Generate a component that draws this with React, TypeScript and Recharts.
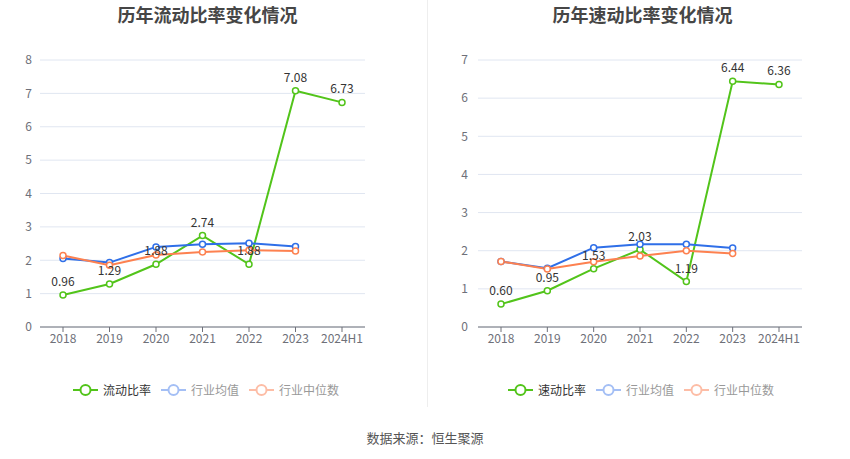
import React from 'react';
import { LineChart, Line, XAxis, YAxis, CartesianGrid, LabelList } from 'recharts';

const categories = ['2018', '2019', '2020', '2021', '2022', '2023', '2024H1'];
const currentRatio = [0.96, 1.29, 1.88, 2.74, 1.88, 7.08, 6.73];
const currentAvg = [2.05, 1.93, 2.4, 2.48, 2.51, 2.41, null];
const currentMedian = [2.14, 1.85, 2.16, 2.25, 2.3, 2.28, null];
const quickRatio = [0.6, 0.95, 1.53, 2.03, 1.19, 6.44, 6.36];
const quickAvg = [1.72, 1.54, 2.08, 2.17, 2.17, 2.07, null];
const quickMedian = [1.72, 1.52, 1.71, 1.86, 2.0, 1.93, null];
const leftTicks = [0, 1, 2, 3, 4, 5, 6, 7, 8];
const rightTicks = [0, 1, 2, 3, 4, 5, 6, 7];

const GREEN = '#52c41a';
const BLUE = '#2f6fe8';
const ORANGE = '#fd8150';
const FONT = '"Noto Sans CJK SC", "Noto Sans", sans-serif';

const build = (main: number[], avg: (number | null)[], med: (number | null)[]) =>
  categories.map((c, i) => ({ name: c, main: main[i], avg: avg[i], med: med[i] }));

const leftData = build(currentRatio, currentAvg, currentMedian);
const rightData = build(quickRatio, quickAvg, quickMedian);

const LegendIcon = ({ color }: { color: string }) => (
  <svg width={25} height={14} style={{ display: 'block' }}>
    <line x1={0} y1={7} x2={25} y2={7} stroke={color} strokeWidth={2} />
    <circle cx={12.5} cy={7} r={5} fill="#fff" stroke={color} strokeWidth={2} />
  </svg>
);

const LegendRow = ({ mainName, left }: { mainName: string; left: number }) => {
  const items = [
    { name: mainName, color: GREEN, text: '#333' },
    { name: '行业均值', color: '#a4bff5', text: '#999' },
    { name: '行业中位数', color: '#fdbda6', text: '#999' },
  ];
  return (
    <div style={{ position: 'absolute', left, top: 382, display: 'flex', alignItems: 'center', fontFamily: FONT, fontSize: 12 }}>
      {items.map((it, i) => (
        <div key={i} style={{ display: 'flex', alignItems: 'center', marginRight: 10 }}>
          <LegendIcon color={it.color} />
          <span style={{ marginLeft: 5, color: it.text, lineHeight: '16px' }}>{it.name}</span>
        </div>
      ))}
    </div>
  );
};

const Panel = ({ data, ticks, max, marginLeft, marginRight, tickMargin, pad }: any) => (
  <LineChart width={425} height={360} data={data} margin={{ top: 60, right: marginRight, bottom: 3, left: marginLeft }}>
    <CartesianGrid vertical={false} stroke="#e0e6f1" />
    <XAxis
      dataKey="name"
      axisLine={{ stroke: '#6e7079' }}
      tickLine={{ stroke: '#6e7079' }}
      tickSize={5}
      padding={{ left: pad, right: pad }}
      tick={{ fill: '#6e7079', fontSize: 12, fontFamily: FONT }}
      interval={0}
    />
    <YAxis
      width={40}
      domain={[0, max]}
      ticks={ticks}
      axisLine={false}
      tickLine={false}
      tickMargin={tickMargin}
      tick={{ fill: '#6e7079', fontSize: 12, fontFamily: FONT }}
    />
    <Line
      type="linear"
      dataKey="main"
      stroke={GREEN}
      strokeWidth={2}
      dot={{ r: 3, fill: '#fff', stroke: GREEN, strokeWidth: 1.5 }}
      isAnimationActive={false}
    >
      <LabelList
        dataKey="main"
        position="top"
        offset={9}
        fill="#333"
        fontSize={12}
        fontFamily={FONT}
        formatter={(v: any) => (v == null ? '' : Number(v).toFixed(2))}
      />
    </Line>
    <Line
      type="linear"
      dataKey="avg"
      stroke={BLUE}
      strokeWidth={2}
      dot={{ r: 3, fill: '#fff', stroke: BLUE, strokeWidth: 1.5 }}
      isAnimationActive={false}
    />
    <Line
      type="linear"
      dataKey="med"
      stroke={ORANGE}
      strokeWidth={2}
      dot={{ r: 3, fill: '#fff', stroke: ORANGE, strokeWidth: 1.5 }}
      isAnimationActive={false}
    />
  </LineChart>
);

export default function App() {
  return (
    <div style={{ position: 'absolute', left: 0, top: 0, width: 850, height: 459, background: '#fff', fontFamily: FONT, overflow: 'hidden' }}>
      <div style={{ position: 'absolute', left: 0, top: 2, width: 415, textAlign: 'center', fontSize: 18, fontWeight: 'bold', color: '#464646', lineHeight: '24px' }}>
        历年流动比率变化情况
      </div>
      <div style={{ position: 'absolute', left: 430, top: 2, width: 425, textAlign: 'center', fontSize: 18, fontWeight: 'bold', color: '#464646', lineHeight: '24px' }}>
        历年速动比率变化情况
      </div>
      <div style={{ position: 'absolute', left: 427, top: 0, width: 1, height: 407, background: '#eeeeee' }} />
      <div style={{ position: 'absolute', left: 0, top: 0 }}>
        <Panel data={leftData} ticks={leftTicks} max={8} marginLeft={0} marginRight={60} tickMargin={2} pad={23} />
      </div>
      <div style={{ position: 'absolute', left: 425, top: 0 }}>
        <Panel data={rightData} ticks={rightTicks} max={7} marginLeft={13} marginRight={48} tickMargin={4} pad={23} />
      </div>
      <LegendRow mainName="流动比率" left={73} />
      <LegendRow mainName="速动比率" left={508} />
      <div style={{ position: 'absolute', left: 0, top: 428, width: 850, textAlign: 'center', fontSize: 13, color: '#555', lineHeight: '20px' }}>
        数据来源：恒生聚源
      </div>
    </div>
  );
}
